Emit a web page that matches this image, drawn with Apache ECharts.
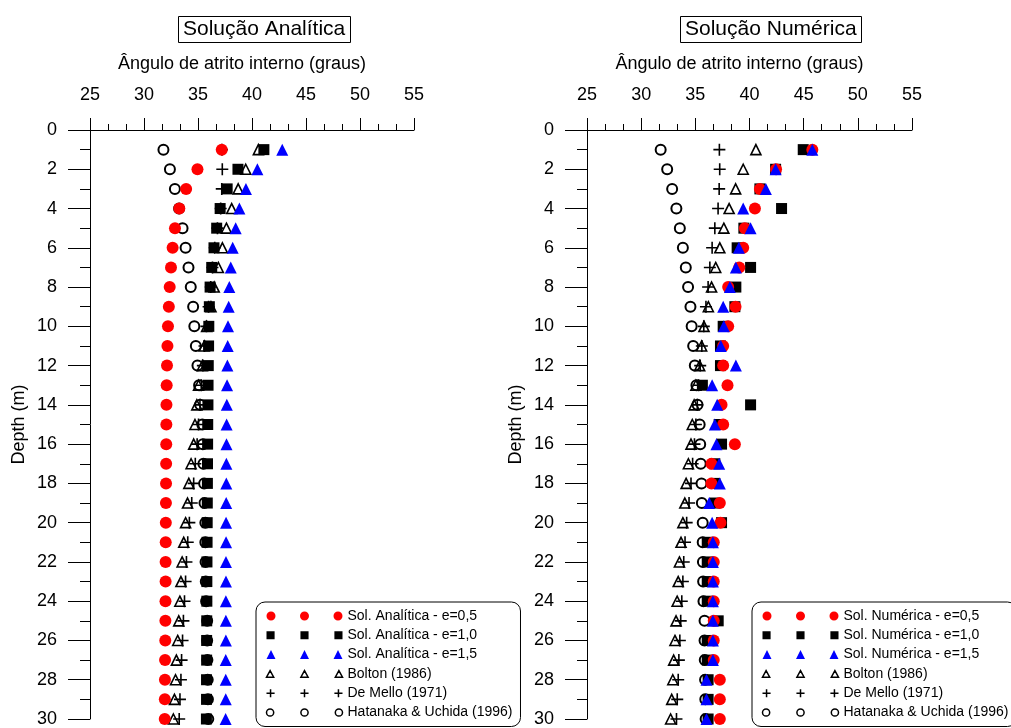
<!DOCTYPE html>
<html><head><meta charset="utf-8">
<script src="https://cdn.jsdelivr.net/npm/echarts@6/dist/echarts.min.js"></script>
<style>html,body{margin:0;padding:0;background:#fff}#c{width:1011px;height:728px}</style>
</head><body><div id="c"></div>
<script>
// ---------- DATA ----------
const depths = [1,2,3,4,5,6,7,8,9,10,11,12,13,14,15,16,17,18,19,20,21,22,23,24,25,26,27,28,29,30];
const xTicks = [25,30,35,40,45,50,55];

// Solução Analítica
const ana05 = [37.2,34.95,33.9,33.27,32.87,32.65,32.5,32.38,32.3,32.22,32.17,32.13,32.1,32.08,32.07,32.06,32.05,32.04,32.03,32.02,32.01,32.0,32.0,31.99,31.98,31.97,31.95,31.94,31.93,31.92];
const ana10 = [41.1,38.7,37.7,37.05,36.73,36.48,36.27,36.12,36.05,36.0,35.98,35.95,35.93,35.92,35.9,35.89,35.88,35.87,35.86,35.85,35.84,35.83,35.82,35.82,35.81,35.8,35.8,35.79,35.79,35.78];
const ana15 = [42.8,40.5,39.44,38.83,38.49,38.21,38.03,37.9,37.84,37.78,37.75,37.72,37.69,37.67,37.65,37.64,37.63,37.62,37.61,37.6,37.6,37.59,37.59,37.58,37.58,37.58,37.57,37.57,37.57,37.56];

// Solução Numérica
const num05 = [45.8,42.45,40.96,40.5,39.57,39.42,39.05,38.03,38.71,38.03,37.57,37.57,37.97,37.42,37.57,38.65,36.49,36.49,37.26,37.32,36.7,36.7,36.7,36.7,36.7,36.7,36.7,37.26,37.26,37.26];
const num10 = [44.96,42.41,40.96,42.96,39.48,38.86,40.1,38.74,38.65,37.57,37.32,37.32,35.65,40.1,37.2,37.42,36.8,36.8,36.8,37.42,36.1,36.1,36.1,36.1,37.11,36.1,36.1,36.18,36.18,36.18];
const num15 = [45.8,42.41,41.51,39.42,40.1,39.02,38.74,38.19,37.57,37.63,37.35,38.74,36.55,37.02,36.8,36.95,37.2,37.26,36.28,36.55,36.62,36.62,36.62,36.62,36.62,36.62,36.62,36.03,36.03,36.03];

// Correlações empíricas (iguais nos dois painéis)
const bolton   = [40.59,39.42,38.72,38.12,37.63,37.26,36.88,36.5,36.2,35.8,35.58,35.4,35.05,34.89,34.72,34.6,34.36,34.15,34.03,33.85,33.68,33.53,33.42,33.32,33.22,33.12,33.0,32.92,32.82,32.72];
const demello  = [37.22,37.25,37.2,37.1,36.8,36.55,36.34,36.18,35.98,35.78,35.6,35.45,35.3,35.18,35.05,34.92,34.75,34.6,34.42,34.2,34.05,33.93,33.85,33.75,33.65,33.57,33.48,33.42,33.33,33.26];
const hatanaka = [31.8,32.4,32.86,33.25,33.57,33.85,34.12,34.33,34.55,34.66,34.8,34.95,35.1,35.2,35.4,35.45,35.5,35.57,35.6,35.68,35.68,35.7,35.72,35.75,35.85,35.85,35.87,35.9,35.92,35.95];

const names = {
  a05: 'Sol. Analítica - e=0,5', a10: 'Sol. Analítica - e=1,0', a15: 'Sol. Analítica - e=1,5',
  n05: 'Sol. Numérica - e=0,5', n10: 'Sol. Numérica - e=1,0', n15: 'Sol. Numérica - e=1,5',
  bol: 'Bolton (1986)', dem: 'De Mello (1971)', hat: 'Hatanaka & Uchida (1996)'
};
const titles = ['Solução Analítica', 'Solução Numérica'];
const xName = 'Ângulo de atrito interno (graus)';
const yName = 'Depth (m)';

// ---------- STYLE ----------
const FONT = "'Liberation Sans', Arial, Helvetica, sans-serif";
const PLUS = 'path://M5,0L5,10M0,5L10,5';
const icon3 = {
  circle: 'path://M0,4.5a4.5,4.5 0 1,0 9,0a4.5,4.5 0 1,0 -9,0M33.5,4.5a4.5,4.5 0 1,0 9,0a4.5,4.5 0 1,0 -9,0M67,4.5a4.5,4.5 0 1,0 9,0a4.5,4.5 0 1,0 -9,0',
  square: 'path://M0.5,0.5H8.5V8.5H0.5ZM34,0.5H42V8.5H34ZM67.5,0.5H75.5V8.5H67.5Z',
  tri: 'path://M4.5,0L9,9L0,9ZM38,0L42.5,9L33.5,9ZM71.5,0L76,9L67,9Z',
  otri: 'path://M4.5,1.5L8,8L1,8ZM38,1.5L41.5,8L34.5,8ZM71.5,1.5L75,8L68,8Z',
  plus: 'path://M4.5,0.5V8.5M0.5,4.5H8.5M38,0.5V8.5M34,4.5H42M71.5,0.5V8.5M67.5,4.5H75.5',
  ocircle: 'path://M1,4.5a3.5,3.5 0 1,0 7,0a3.5,3.5 0 1,0 -7,0M34.5,4.5a3.5,3.5 0 1,0 7,0a3.5,3.5 0 1,0 -7,0M68,4.5a3.5,3.5 0 1,0 7,0a3.5,3.5 0 1,0 -7,0'
};

const grids = [
  {left: 90, top: 130, width: 324, height: 592},
  {left: 587, top: 130, width: 325, height: 592}
];

function xAxisCfg(i) {
  return {
    gridIndex: i, type: 'value', position: 'top', min: xTicks[0], max: xTicks[xTicks.length-1], interval: xTicks[1]-xTicks[0],
    name: xName, nameLocation: 'middle', nameGap: 57,
    nameTextStyle: {fontSize: 18, color: '#000', fontFamily: FONT, padding: [0, 20, 0, 0]},
    axisLine: {show: true, onZero: false, lineStyle: {color: '#000', width: 1}},
    axisTick: {show: true, length: 12, lineStyle: {color: '#000', width: 1}},
    minorTick: {show: true, splitNumber: 3, length: 6, lineStyle: {color: '#000', width: 1}},
    axisLabel: {fontSize: 18, color: '#000', margin: 26, fontFamily: FONT},
    splitLine: {show: false}, minorSplitLine: {show: false}
  };
}
function yAxisCfg(i) {
  return {
    gridIndex: i, type: 'value', inverse: true, min: 0, max: 30, interval: 2,
    name: yName, nameLocation: 'middle', nameGap: 62,
    nameTextStyle: {fontSize: 18, color: '#000', fontFamily: FONT},
    axisLine: {show: true, onZero: false, lineStyle: {color: '#000', width: 1}},
    axisTick: {show: true, length: 22, lineStyle: {color: '#000', width: 1}},
    minorTick: {show: true, splitNumber: 2, length: 10, lineStyle: {color: '#000', width: 1}},
    axisLabel: {fontSize: 18, color: '#000', margin: 33, fontFamily: FONT},
    splitLine: {show: false}, minorSplitLine: {show: false}
  };
}
function pts(vals) { return vals.map((v, k) => [v, depths[k]]); }

function panelSeries(i, s05, s10, s15, n05, n10, n15) {
  const base = {type: 'scatter', xAxisIndex: i, yAxisIndex: i, animation: false, emphasis: {disabled: true}};
  return [
    Object.assign({}, base, {name: names.hat, data: pts(hatanaka), symbol: 'circle', symbolSize: 10,
      itemStyle: {color: 'none', borderColor: '#000', borderWidth: 2, opacity: 1}}),
    Object.assign({}, base, {name: names.dem, data: pts(demello), symbol: PLUS, symbolSize: 12,
      itemStyle: {color: 'none', borderColor: '#000', borderWidth: 1.6, opacity: 1}}),
    Object.assign({}, base, {name: names.bol, data: pts(bolton), symbol: 'triangle', symbolSize: 10,
      itemStyle: {color: 'none', borderColor: '#000', borderWidth: 1.6, opacity: 1}}),
    Object.assign({}, base, {name: n10, data: pts(s10), symbol: 'rect', symbolSize: 11,
      itemStyle: {color: '#000', opacity: 1}}),
    Object.assign({}, base, {name: n05, data: pts(s05), symbol: 'circle', symbolSize: 12,
      itemStyle: {color: '#ff0000', opacity: 1}}),
    Object.assign({}, base, {name: n15, data: pts(s15), symbol: 'triangle', symbolSize: 12,
      itemStyle: {color: '#0000ff', opacity: 1}})
  ];
}

function legendCfg(left, n05, n10, n15) {
  return {
    orient: 'vertical', left: left, top: 602, itemWidth: 76, itemHeight: 9, itemGap: 3.3,
    padding: [6, 8, 6, 8], borderColor: '#000', borderWidth: 1, borderRadius: 9, backgroundColor: '#fff',
    textStyle: {fontSize: 14, color: '#000', fontFamily: FONT, lineHeight: 16},
    selectedMode: false,
    data: [
      {name: n05, icon: icon3.circle, itemStyle: {color: '#ff0000', borderWidth: 0, opacity: 1}},
      {name: n10, icon: icon3.square, itemStyle: {color: '#000', borderWidth: 0, opacity: 1}},
      {name: n15, icon: icon3.tri, itemStyle: {color: '#0000ff', borderWidth: 0, opacity: 1}},
      {name: names.bol, icon: icon3.otri, itemStyle: {color: 'none', borderColor: '#000', borderWidth: 1.5, opacity: 1}},
      {name: names.dem, icon: icon3.plus, itemStyle: {color: 'none', borderColor: '#000', borderWidth: 1.5, opacity: 1}},
      {name: names.hat, icon: icon3.ocircle, itemStyle: {color: 'none', borderColor: '#000', borderWidth: 1.5, opacity: 1}}
    ]
  };
}

const chart = echarts.init(document.getElementById('c'), null, {renderer: 'canvas'});
chart.setOption({
  backgroundColor: '#fff',
  animation: false,
  textStyle: {fontFamily: FONT},
  title: [
    {text: titles[0], left: 178, top: 16, padding: [3, 5], borderColor: '#000', borderWidth: 1,
      textStyle: {fontSize: 21, fontWeight: 'normal', color: '#000', fontFamily: FONT}},
    {text: titles[1], left: 680, top: 16, padding: [3, 5], borderColor: '#000', borderWidth: 1,
      textStyle: {fontSize: 21, fontWeight: 'normal', color: '#000', fontFamily: FONT}}
  ],
  grid: grids,
  xAxis: [xAxisCfg(0), xAxisCfg(1)],
  yAxis: [yAxisCfg(0), yAxisCfg(1)],
  legend: [legendCfg(256, names.a05, names.a10, names.a15), legendCfg(752, names.n05, names.n10, names.n15)],
  series: panelSeries(0, ana05, ana10, ana15, names.a05, names.a10, names.a15)
    .concat(panelSeries(1, num05, num10, num15, names.n05, names.n10, names.n15))
});
</script></body></html>
